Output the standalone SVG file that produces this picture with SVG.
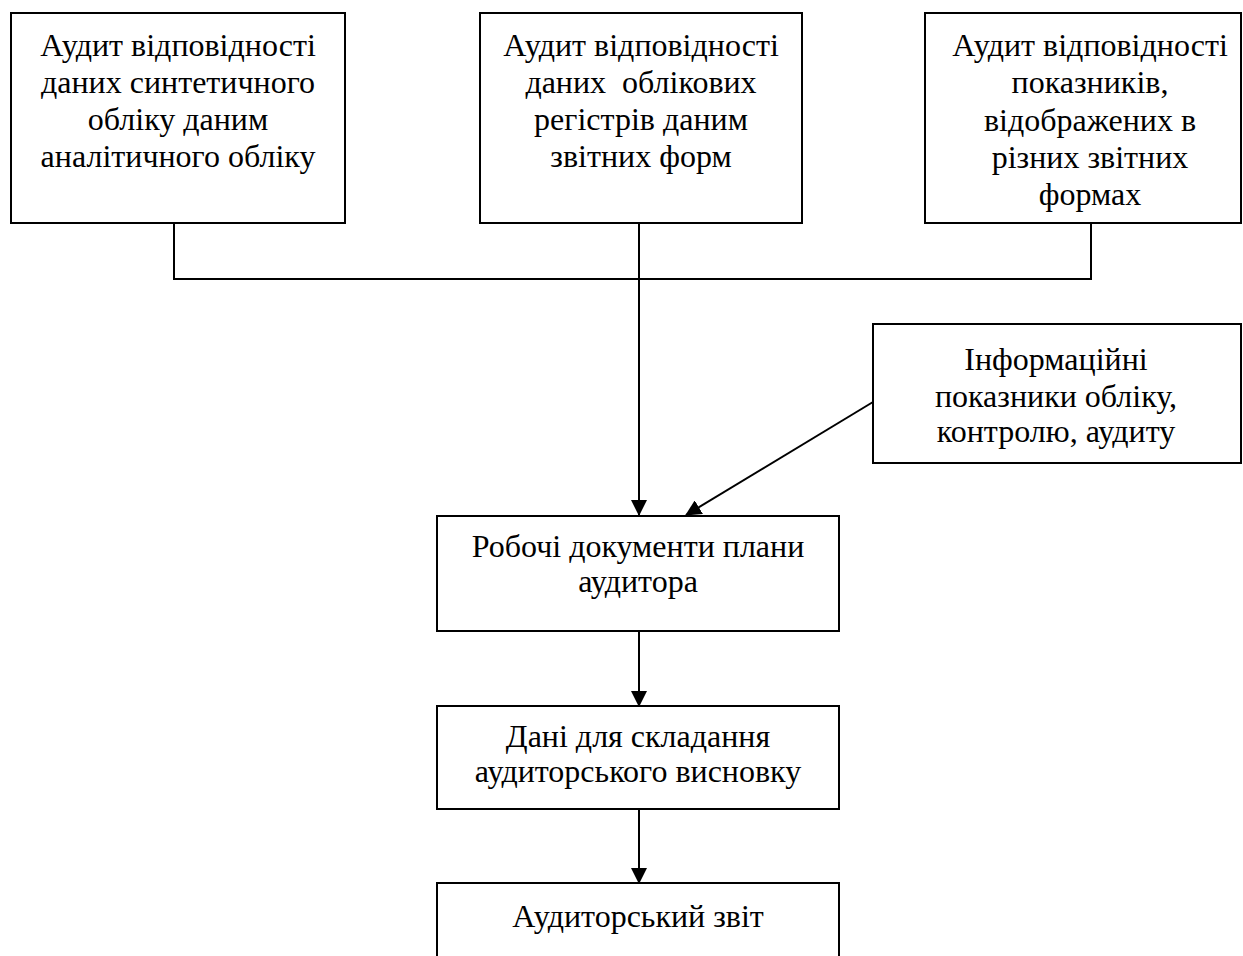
<svg xmlns="http://www.w3.org/2000/svg" width="1243" height="956" viewBox="0 0 1243 956">
<style>
.box{fill:#fff;stroke:#000;stroke-width:2}
.t{font-family:"Liberation Serif","Times New Roman",serif;font-size:32px;fill:#000;text-anchor:middle}
.c{fill:none;stroke:#000;stroke-width:2}
</style>
<defs>
<marker id="ah" markerWidth="16" markerHeight="16" viewBox="0 0 16 16" refX="15" refY="8" orient="auto" markerUnits="userSpaceOnUse">
<path d="M0,0 L16,8 L0,16 Z" fill="#000"/>
</marker>
</defs>
<rect width="1243" height="956" fill="#fff"/>
<g id="connectors">
<path class="c" d="M174,223 V279 H1091 V223"/>
<path class="c" d="M639,223 V515" marker-end="url(#ah)"/>
<path class="c" d="M873,402 L686,515" marker-end="url(#ah)"/>
<path class="c" d="M639,631 V706" marker-end="url(#ah)"/>
<path class="c" d="M639,809 V883" marker-end="url(#ah)"/>
</g>
<g id="n1">
<rect class="box" x="11" y="13" width="334" height="210"/>
<text class="t" x="178" y="56">Аудит відповідності</text>
<text class="t" x="178" y="93">даних синтетичного</text>
<text class="t" x="178" y="130">обліку даним</text>
<text class="t" x="178" y="167">аналітичного обліку</text>
</g>
<g id="n2">
<rect class="box" x="480" y="13" width="322" height="210"/>
<text class="t" x="641" y="56">Аудит відповідності</text>
<text class="t" x="641" y="93" xml:space="preserve">даних  облікових</text>
<text class="t" x="641" y="130">регістрів даним</text>
<text class="t" x="641" y="167">звітних форм</text>
</g>
<g id="n3">
<rect class="box" x="925" y="13" width="316" height="210"/>
<text class="t" x="1090" y="56">Аудит відповідності</text>
<text class="t" x="1090" y="93">показників,</text>
<text class="t" x="1090" y="131">відображених в</text>
<text class="t" x="1090" y="168">різних звітних</text>
<text class="t" x="1090" y="205">формах</text>
</g>
<g id="n4">
<rect class="box" x="873" y="324" width="368" height="139"/>
<text class="t" x="1056" y="370">Інформаційні</text>
<text class="t" x="1056" y="407">показники обліку,</text>
<text class="t" x="1056" y="442">контролю, аудиту</text>
</g>
<g id="n5">
<rect class="box" x="437" y="516" width="402" height="115"/>
<text class="t" x="638" y="557">Робочі документи плани</text>
<text class="t" x="638" y="592">аудитора</text>
</g>
<g id="n6">
<rect class="box" x="437" y="706" width="402" height="103"/>
<text class="t" x="638" y="747">Дані для складання</text>
<text class="t" x="638" y="782">аудиторського висновку</text>
</g>
<g id="n7">
<rect class="box" x="437" y="883" width="402" height="90"/>
<text class="t" x="638" y="927">Аудиторський звіт</text>
</g>
</svg>
